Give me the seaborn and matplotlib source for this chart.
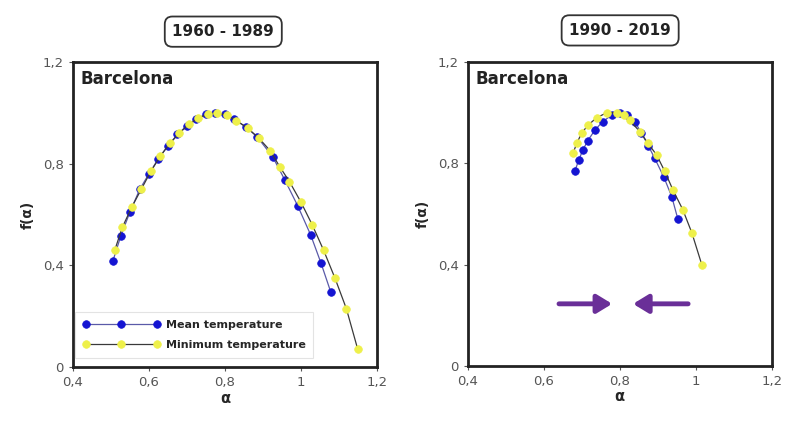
import numpy as np
import pandas as pd
import seaborn as sns
import matplotlib.pyplot as plt
from matplotlib.ticker import FuncFormatter

# 1960 - 1989, Barcelona
alpha_mean_1 = [0.505, 0.526, 0.55, 0.576, 0.60, 0.625, 0.65, 0.675, 0.70, 0.725, 0.75,
                0.775, 0.80, 0.825, 0.855, 0.885, 0.926, 0.958, 0.992, 1.026, 1.053, 1.079]
f_mean_1 = [0.417, 0.516, 0.61, 0.70, 0.76, 0.82, 0.87, 0.915, 0.95, 0.975, 0.995,
            1.0, 0.995, 0.975, 0.945, 0.906, 0.827, 0.736, 0.634, 0.52, 0.41, 0.295]
alpha_min_1 = [0.51, 0.53, 0.555, 0.58, 0.605, 0.63, 0.655, 0.68, 0.705, 0.73, 0.755, 0.78,
               0.805, 0.83, 0.86, 0.89, 0.92, 0.945, 0.97, 1.0, 1.03, 1.06, 1.09, 1.12, 1.15]
f_min_1 = [0.46, 0.55, 0.63, 0.70, 0.77, 0.83, 0.88, 0.92, 0.955, 0.98, 0.995, 1.0,
           0.99, 0.97, 0.94, 0.90, 0.85, 0.787, 0.73, 0.65, 0.56, 0.46, 0.35, 0.23, 0.07]

# 1990 - 2019, Barcelona
alpha_mean_2 = [0.682, 0.692, 0.703, 0.716, 0.734, 0.755, 0.779, 0.80, 0.818, 0.84,
                0.857, 0.875, 0.892, 0.916, 0.937, 0.953]
f_mean_2 = [0.77, 0.813, 0.853, 0.89, 0.93, 0.965, 0.99, 1.0, 0.99, 0.963,
            0.92, 0.87, 0.82, 0.746, 0.668, 0.58]
alpha_min_2 = [0.677, 0.687, 0.70, 0.716, 0.739, 0.766, 0.792, 0.81, 0.826, 0.853, 0.874,
               0.897, 0.918, 0.94, 0.966, 0.99, 1.016]
f_min_2 = [0.84, 0.88, 0.92, 0.95, 0.98, 1.0, 1.0, 0.99, 0.97, 0.925, 0.88,
           0.833, 0.77, 0.695, 0.617, 0.525, 0.40]

periods = ["1960 - 1989", "1990 - 2019"]
city = "Barcelona"
labels = ["Mean temperature", "Minimum temperature"]

# arrows in second panel: (start, end) in alpha, at f level
arrow_y = 0.245
arrow_right = (0.64, 0.78)
arrow_left = (0.98, 0.835)

blue = "#1414d2"
yellow = "#eef04a"
purple = "#6a2f98"

sns.set_style("white")
plt.rcParams['font.family'] = ['DejaVu Sans']

fig = plt.figure(figsize=(7.89, 4.22), dpi=100)
ax1 = fig.add_axes([0.0925, 0.130, 0.385, 0.723])
ax2 = fig.add_axes([0.593, 0.133, 0.385, 0.720])

series = [
    (ax1, alpha_mean_1, f_mean_1, alpha_min_1, f_min_1),
    (ax2, alpha_mean_2, f_mean_2, alpha_min_2, f_min_2),
]

comma = FuncFormatter(lambda v, p: ("%g" % round(v, 2)).replace(".", ","))

for ax, am, fm, an, fn in series:
    dm = pd.DataFrame({"alpha": am, "f": fm})
    dn = pd.DataFrame({"alpha": an, "f": fn})
    sns.lineplot(data=dm, x="alpha", y="f", sort=False, ax=ax, color="#5a5aa8",
                 lw=0.9, marker="o", markersize=5.5, markerfacecolor=blue,
                 markeredgecolor=blue, markeredgewidth=0.5, label=labels[0], zorder=2)
    sns.lineplot(data=dn, x="alpha", y="f", sort=False, ax=ax, color="#3a3a3a",
                 lw=0.9, marker="o", markersize=5.5, markerfacecolor=yellow,
                 markeredgecolor=yellow, markeredgewidth=0.5, label=labels[1], zorder=3)
    ax.set_xlim(0.4, 1.2)
    ax.set_ylim(0, 1.2)
    ax.set_xticks([0.4, 0.6, 0.8, 1.0, 1.2])
    ax.set_yticks([0, 0.4, 0.8, 1.2])
    ax.xaxis.set_major_formatter(comma)
    ax.yaxis.set_major_formatter(comma)
    ax.tick_params(axis="both", labelsize=9.5, labelcolor="#555555", length=3,
                   direction="out", color="#555555", bottom=True, left=True)
    ax.set_xlabel("α", fontsize=10.5, fontweight="bold", labelpad=1)
    ax.set_ylabel("f(α)", fontsize=10, fontweight="bold", labelpad=6)
    for s in ax.spines.values():
        s.set_color("#222222")
        s.set_linewidth(2)
    ax.text(0.025, 0.975, city, transform=ax.transAxes, ha="left", va="top",
            fontsize=12, fontweight="bold", color="#222222")

leg = ax1.legend(loc="lower left", bbox_to_anchor=(0.005, 0.03), numpoints=3,
                 handlelength=7, frameon=True, fancybox=False, borderaxespad=0.0,
                 borderpad=0.7, labelspacing=0.9, handletextpad=0.5,
                 prop={"weight": "bold", "size": 8})
leg.get_frame().set_edgecolor("#dddddd")
leg.get_frame().set_linewidth(0.8)
ax2.get_legend().remove()

fig.text(0.283, 0.925, periods[0], ha="center", va="center", fontsize=11,
         fontweight="bold", color="#222222",
         bbox=dict(boxstyle="round,pad=0.5", fc="white", ec="#333333", lw=1.3))
fig.text(0.786, 0.928, periods[1], ha="center", va="center", fontsize=11,
         fontweight="bold", color="#222222",
         bbox=dict(boxstyle="round,pad=0.5", fc="white", ec="#333333", lw=1.3))

for start, end in [arrow_right, arrow_left]:
    ax2.annotate("", xy=(end, arrow_y), xytext=(start, arrow_y),
                 arrowprops=dict(arrowstyle="-|>,head_length=0.9,head_width=0.55",
                                 color=purple, lw=3.5, shrinkA=0, shrinkB=0))

fig.savefig("out.png", dpi=100)
